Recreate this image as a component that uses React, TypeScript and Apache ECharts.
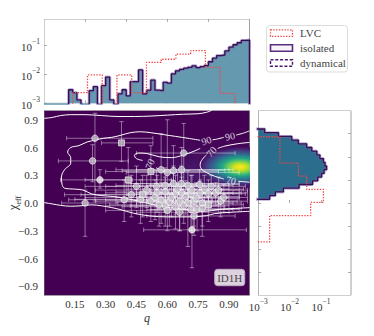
import React, { useEffect, useRef } from 'react';
import * as echarts from 'echarts';

const FONT = 'Liberation Serif, DejaVu Serif, serif';

// ---------- marginal density of q (top panel) ----------
const qIsoStart = 0;
const qIsoWidth = 0.02;
const qIsolated = [0, 0, 0, 0, 0, 0, 0.0029, 0.0023, 0.0013, 0, 0, 0.0027, 0.0037, 0, 0.004, 0.0079, 0.0013, 0, 0.0021, 0.0029,
  0.0018, 0.0055, 0.0055, 0.0138, 0.0021, 0.0028, 0.0062, 0.0028, 0.0027, 0.0052, 0.0049, 0.0102, 0.0129, 0.0145, 0.0158, 0.017,
  0.019, 0.0166, 0.0178, 0.0195, 0.0263, 0.0347, 0.0427, 0.0447, 0.0617, 0.083, 0.1, 0.117, 0.141, 0.145];
const qLvcStart = 0.14;
const qLvcWidth = 0.0717;
const qLVC = [0.0023, 0.0093, 0, 0.0093, 0.0023, 0.025, 0.032, 0.048, 0.063, 0.017, 0.0022, 0];

// ---------- marginal density of chi_eff (right panel) ----------
const chiIsoStart = 0.04;
const chiIsoWidth = 0.04;
const chiIsolated = [0.0023, 0.0035, 0.0063, 0.02, 0.054, 0.079, 0.105, 0.126, 0.151, 0.135, 0.12, 0.093, 0.074, 0.051,
  0.035, 0.019, 0.0117, 0.0044, 0.0016];
const chiLvcStart = -0.42;
const chiLvcWidth = 0.142;
const chiLVC = [0.0023, 0.0023, 0.047, 0.12, 0.035, 0.019, 0.0049, 0.0049];

// ---------- axis ranges and tick labels ----------
const qRange = [0, 1];
const chiRange = [-1, 1];
const topLogRange = [-3, -0.12];
const sideLogRange = [-3, -0.04];
const qTickLabels = [0.15, 0.3, 0.45, 0.6, 0.75, 0.9];
const chiTickLabels = [-0.9, -0.6, -0.3, 0, 0.3, 0.6, 0.9];
const qTopTicks = [0.2, 0.4, 0.6, 0.8];
const chiSideTicks = [-0.75, -0.5, -0.25, 0, 0.25, 0.5, 0.75];
const logTicks = [-3, -2, -1];

// ---------- density peak (heat map) ----------
const blobQ = [0.82, 0.955];
const blobChi = [0.34, 0.388];
const blobSpreadQ = [0.5, 0.22];
const blobSpreadChi = [0.45, 0.235];

// ---------- events (points with error bars) ----------
const ptQ = [0.248, 0.377, 0.236, 0.272, 0.2, 0.68, 0.41, 0.52, 0.57, 0.6, 0.63, 0.67, 0.45, 0.425, 0.39,
  0.547, 0.5, 0.59, 0.668, 0.7, 0.757, 0.814, 0.55, 0.59, 0.64, 0.67, 0.715, 0.76, 0.8, 0.835,
  0.52, 0.57, 0.61, 0.66, 0.7, 0.73, 0.77, 0.8, 0.86, 0.59, 0.64, 0.68, 0.715, 0.745, 0.77, 0.73, 0.72,
  0.62, 0.69, 0.74, 0.54, 0.48, 0.65, 0.72, 0.78, 0.875, 0.6, 0.56, 0.47, 0.66, 0.85, 0.63];
const ptChi = [0.7, 0.65, 0.455, 0.25, 0.0, 0.54, 0.25, 0.34, 0.36, 0.33, 0.35, 0.36, 0.18, 0.09, 0.035,
  0.18, 0.14, 0.19, 0.21, 0.19, 0.2, 0.18, 0.11, 0.12, 0.1, 0.11, 0.1, 0.11, 0.1, 0.11,
  0.02, 0.03, 0.01, 0.02, 0.0, 0.02, 0.0, -0.02, 0.02, -0.03, -0.04, -0.03, -0.07, -0.07, -0.06, -0.14, -0.29,
  0.06, 0.07, 0.05, 0.06, 0.09, 0.15, 0.14, 0.15, 0.06, -0.08, -0.02, 0.04, -0.1, 0.14, 0.21];
const ptQLo = [0.11, 0.28, 0.07, 0.08, 0.086, 0.45, 0.2, 0.3, 0.35, 0.4, 0.38, 0.45, 0.2, 0.18, 0.12,
  0.3, 0.25, 0.35, 0.42, 0.5, 0.55, 0.62, 0.3, 0.35, 0.4, 0.45, 0.5, 0.52, 0.6, 0.65,
  0.25, 0.3, 0.35, 0.4, 0.45, 0.5, 0.55, 0.6, 0.7, 0.3, 0.38, 0.42, 0.5, 0.52, 0.55, 0.5, 0.485,
  0.35, 0.45, 0.5, 0.2, 0.1, 0.4, 0.5, 0.55, 0.7, 0.3, 0.32, 0.15, 0.45, 0.7, 0.4];
const ptQHi = [0.53, 0.53, 0.41, 0.43, 0.36, 0.93, 0.62, 0.85, 0.9, 0.95, 0.88, 0.92, 0.75, 0.7, 0.6,
  0.85, 0.8, 0.9, 0.95, 0.92, 0.95, 0.98, 0.8, 0.85, 0.9, 0.92, 0.95, 0.96, 0.98, 0.99,
  0.78, 0.82, 0.85, 0.9, 0.92, 0.94, 0.96, 0.97, 0.99, 0.85, 0.88, 0.9, 0.92, 0.95, 0.96, 0.93, 0.985,
  0.9, 0.95, 0.95, 0.8, 0.75, 0.9, 0.95, 0.97, 0.99, 0.85, 0.8, 0.7, 0.9, 0.99, 0.9];
const ptChiLo = [0.02, 0.45, 0.23, 0.16, -0.36, 0.09, 0.08, 0.12, 0.05, 0.1, 0.0, 0.15, -0.05, -0.15, -0.2,
  0.0, -0.05, -0.02, 0.05, 0.0, 0.05, 0.0, -0.1, -0.1, -0.12, -0.05, -0.1, -0.08, -0.05, -0.02,
  -0.2, -0.22, -0.25, -0.3, -0.47, -0.25, -0.36, -0.2, -0.15, -0.25, -0.28, -0.22, -0.3, -0.3, -0.25, -0.35, -0.7,
  -0.15, -0.12, -0.15, -0.18, -0.15, -0.05, -0.05, -0.02, -0.1, -0.3, -0.25, -0.22, -0.3, -0.02, 0.0];
const ptChiHi = [0.97, 0.88, 0.63, 0.36, 0.14, 0.86, 0.6, 0.62, 0.75, 0.9, 0.62, 0.6, 0.4, 0.3, 0.25,
  0.35, 0.3, 0.38, 0.4, 0.35, 0.36, 0.3, 0.3, 0.28, 0.3, 0.28, 0.3, 0.25, 0.25, 0.22,
  0.2, 0.22, 0.2, 0.2, 0.18, 0.2, 0.15, 0.12, 0.15, 0.15, 0.12, 0.12, 0.1, 0.08, 0.1, 0.05, -0.05,
  0.25, 0.24, 0.22, 0.25, 0.3, 0.33, 0.3, 0.3, 0.2, 0.1, 0.12, 0.25, 0.05, 0.28, 0.4];
const ptSquare = [0, 1, 0, 0, 0, 0, 1, 1, 0, 0, 0, 0, 0, 0, 0,
  0, 0, 0, 0, 0, 0, 0, 0, 0, 0, 0, 0, 0, 0, 0,
  0, 0, 0, 0, 0, 0, 0, 1, 0, 0, 0, 0, 0, 0, 0, 0, 0,
  0, 0, 0, 0, 1, 0, 0, 0, 0, 0, 0, 0, 0, 0, 0];
const ptBright = [0, 0, 0, 1, 0, 0, 0, 0, 0, 0, 0, 0, 0, 0, 0,
  0, 0, 0, 0, 0, 0, 0, 0, 0, 0, 0, 0, 0, 0, 0,
  0, 0, 0, 0, 0, 0, 0, 0, 0, 0, 0, 0, 0, 0, 0, 0, 1,
  0, 0, 0, 0, 0, 0, 0, 0, 0, 0, 0, 0, 0, 0, 0];

// ---------- credible-region contours ----------
const contourOuterTop = [[0, 0.915], [0.04, 0.925], [0.08, 0.945], [0.13, 0.955], [0.2, 0.955], [0.28, 0.945], [0.36, 0.935],
  [0.44, 0.935], [0.52, 0.94], [0.6, 0.95], [0.68, 0.96], [0.75, 0.965], [0.79, 0.98], [0.815, 1.0]];
const contourOuterBottom = [[0, 0.005], [0.04, -0.01], [0.08, -0.025], [0.13, -0.035], [0.18, -0.03], [0.23, -0.02],
  [0.28, -0.03], [0.33, -0.05], [0.37, -0.07], [0.435, -0.11], [0.515, -0.14], [0.6, -0.15], [0.7, -0.15], [0.79, -0.137],
  [0.83, -0.115], [0.91, -0.1], [1.0, -0.09]];
const contour90a = [[1.0, 0.78], [0.97, 0.755], [0.935, 0.735]];
const contour90b = [[0.875, 0.71], [0.84, 0.69], [0.82, 0.683]];
const contour90c = [[0.76, 0.678], [0.7, 0.7], [0.64, 0.72], [0.58, 0.74], [0.52, 0.76], [0.47, 0.77], [0.42, 0.76],
  [0.37, 0.73], [0.33, 0.71], [0.29, 0.7], [0.25, 0.68], [0.21, 0.66], [0.17, 0.62], [0.13, 0.6], [0.115, 0.55],
  [0.13, 0.49], [0.13, 0.43], [0.1, 0.36], [0.085, 0.28], [0.088, 0.2], [0.1, 0.16], [0.15, 0.15], [0.19, 0.14],
  [0.23, 0.1], [0.28, 0.08], [0.34, 0.07], [0.4, 0.05], [0.46, 0.02], [0.52, -0.01], [0.58, -0.04], [0.65, -0.06],
  [0.72, -0.08], [0.78, -0.09], [0.85, -0.07], [0.92, -0.06], [1.0, -0.05]];
const contour70a = [[1.0, 0.655], [0.94, 0.64], [0.88, 0.615], [0.845, 0.59]];
const contour70b = [[0.79, 0.52], [0.77, 0.47], [0.76, 0.42], [0.765, 0.37], [0.79, 0.33], [0.83, 0.29], [0.875, 0.26]];
const contour70c = [[0.945, 0.235], [1.0, 0.225]];
const contour70d = [[0.76, 0.59], [0.73, 0.56], [0.68, 0.52], [0.62, 0.49], [0.56, 0.5], [0.5, 0.535], [0.46, 0.54],
  [0.44, 0.515], [0.45, 0.48], [0.48, 0.46]];
const contour70e = [[0.545, 0.38], [0.58, 0.35], [0.63, 0.32]];
const contours = [contourOuterTop, contourOuterBottom, contour90a, contour90b, contour90c, contour70a, contour70b,
  contour70c, contour70d, contour70e];
const clabelQ = [0.905, 0.79, 0.815, 0.91, 0.515];
const clabelChi = [0.722, 0.675, 0.555, 0.245, 0.42];
const clabelText = ['90', '90', '70', '70', '70'];
const clabelAngle = [12, 18, 48, -12, 65];

// ---------- helpers ----------
const LOG_FLOOR = -4;
const lg = (v: number) => (v > 0 ? Math.log10(v) : LOG_FLOOR);
function stepPoints(start: number, width: number, vals: number[], swap: boolean) {
  const pts: number[][] = [[start, LOG_FLOOR]];
  vals.forEach((v, i) => {
    const a = start + i * width;
    pts.push([a, lg(v)], [a + width, lg(v)]);
  });
  pts.push([start + vals.length * width, LOG_FLOOR]);
  return swap ? pts.map((p) => [p[1], p[0]]) : pts;
}

const TXT = '#333';
const powFmt = (v: number) => `{b|10}{s|−${Math.round(-v)}}`;
const powRich = {
  b: { fontFamily: FONT, fontSize: 11, color: TXT, lineHeight: 15, verticalAlign: 'bottom' },
  s: { fontFamily: FONT, fontSize: 7.5, color: TXT, lineHeight: 9, verticalAlign: 'top' },
};
const tickStyle = { color: '#999', width: 0.8 };
const gridBase = { show: false, outerBoundsMode: 'none', containLabel: false };

// panel background + frame drawn through the axes' own scales (corners = axis extents)
const panel = (xi: number, yi: number, xr: number[], yr: number[], fill: string, stroke: string) => ({
  type: 'custom', xAxisIndex: xi, yAxisIndex: yi, z: 0, silent: true, clip: true, data: [[xr[0], yr[0]]],
  renderItem: (_p: any, api: any) => {
    const a = api.coord([xr[0], yr[1]]);
    const b = api.coord([xr[1], yr[0]]);
    return { type: 'rect', shape: { x: a[0], y: a[1], width: b[0] - a[0], height: b[1] - a[1] }, style: { fill, stroke, lineWidth: 1 } };
  },
});

function buildOption() {
  const isoFillTop = '#6499b0';
  const isoFillSide = '#2b6d8c';
  const isoLine = '#33104f';
  const isoHalo = 'rgba(125,90,175,0.5)';
  const lvcColor = '#f04848';

  const topIso = stepPoints(qIsoStart, qIsoWidth, qIsolated, false);
  const topLvc = stepPoints(qLvcStart, qLvcWidth, qLVC, false);
  const sideIso = stepPoints(chiIsoStart, chiIsoWidth, chiIsolated, true);
  const sideLvc = stepPoints(chiLvcStart, chiLvcWidth, chiLVC, true);

  const blobStops = [
    [
      { offset: 0, color: 'rgba(72,40,120,0.85)' },
      { offset: 1, color: 'rgba(68,1,84,0)' },
    ],
    [
      { offset: 0, color: '#fde725' },
      { offset: 0.12, color: '#d8e219' },
      { offset: 0.25, color: '#7ad151' },
      { offset: 0.4, color: '#22a884' },
      { offset: 0.55, color: '#2a788e' },
      { offset: 0.72, color: '#414487' },
      { offset: 0.88, color: '#471365' },
      { offset: 1, color: 'rgba(68,1,84,0)' },
    ],
  ];

  const points = ptQ.map((q, i) => [q, ptChi[i], ptQLo[i], ptQHi[i], ptChiLo[i], ptChiHi[i]]);
  const markerData = (sq: number) =>
    ptQ
      .map((q, i) => ({ i, q }))
      .filter((o) => ptSquare[o.i] === sq)
      .map((o) => ({
        value: [o.q, ptChi[o.i]],
        itemStyle: { color: ptBright[o.i] ? '#f2f2f2' : 'rgba(200,200,205,0.95)' },
      }));

  const series: any[] = [
    panel(0, 0, qRange, topLogRange, '#ffffff', '#a0a0a0'),
    panel(2, 1, qRange, chiRange, '#440154', '#777777'),
    panel(3, 2, sideLogRange, chiRange, '#ffffff', '#a0a0a0'),
    // top panel
    {
      type: 'line', xAxisIndex: 0, yAxisIndex: 0, data: topIso, symbol: 'none', clip: true, z: 2,
      lineStyle: { width: 3, color: isoHalo }, areaStyle: { color: isoFillTop, opacity: 1, origin: 'start' },
    },
    { type: 'line', xAxisIndex: 0, yAxisIndex: 0, data: topIso, symbol: 'none', clip: true, z: 3, lineStyle: { width: 1.3, color: isoLine } },
    { type: 'line', xAxisIndex: 0, yAxisIndex: 0, data: topLvc, symbol: 'none', clip: true, z: 4, lineStyle: { width: 1.3, color: lvcColor, type: [1.4, 1.4] } },
    // right panel
    {
      type: 'custom', xAxisIndex: 3, yAxisIndex: 2, clip: true, z: 1, data: [[0, 0]],
      renderItem: (_p: any, api: any) => ({
        type: 'polygon',
        shape: { points: sideIso.map((p) => api.coord([Math.max(p[0], sideLogRange[0]), p[1]])) },
        style: { fill: isoFillSide },
      }),
    },
    { type: 'line', xAxisIndex: 3, yAxisIndex: 2, data: sideIso, symbol: 'none', clip: true, z: 2, lineStyle: { width: 3, color: isoHalo } },
    { type: 'line', xAxisIndex: 3, yAxisIndex: 2, data: sideIso, symbol: 'none', clip: true, z: 3, lineStyle: { width: 1.3, color: isoLine } },
    { type: 'line', xAxisIndex: 3, yAxisIndex: 2, data: sideLvc, symbol: 'none', clip: true, z: 4, lineStyle: { width: 1.3, color: lvcColor, type: [1.4, 1.4] } },
    // main panel: density
    {
      type: 'custom', xAxisIndex: 2, yAxisIndex: 1, clip: true, z: 1,
      data: blobQ.map((q, i) => [q, blobChi[i], blobSpreadQ[i], blobSpreadChi[i]]),
      renderItem: (p: any, api: any) => {
        const c = api.coord([api.value(0), api.value(1)]);
        const s = api.size([api.value(2), api.value(3)]);
        return {
          type: 'ellipse',
          shape: { cx: c[0], cy: c[1], rx: s[0], ry: s[1] },
          style: { fill: new echarts.graphic.RadialGradient(0.5, 0.5, 0.5, blobStops[p.dataIndex]) },
        };
      },
    },
    // contours
    ...contours.map((c) => ({
      type: 'line', xAxisIndex: 2, yAxisIndex: 1, data: c, symbol: 'none', smooth: 0.35, clip: true, z: 2,
      lineStyle: { color: '#ffffff', width: 1 }, silent: true,
    })),
    {
      type: 'scatter', xAxisIndex: 2, yAxisIndex: 1, symbolSize: 0, z: 6, silent: true,
      data: clabelQ.map((q, i) => ({
        value: [q, clabelChi[i]], name: clabelText[i],
        label: { rotate: clabelAngle[i] },
      })),
      label: {
        show: true, position: 'inside', formatter: (p: any) => p.name,
        fontFamily: FONT, fontSize: 10, color: '#ffffff',
      },
    },
    // error bars
    {
      type: 'custom', xAxisIndex: 2, yAxisIndex: 1, clip: true, z: 3, data: points,
      encode: { x: 0, y: 1 },
      renderItem: (_p: any, api: any) => {
        const q = api.value(0);
        const c = api.value(1);
        const a = api.coord([api.value(2), c]);
        const b = api.coord([api.value(3), c]);
        const d = api.coord([q, api.value(4)]);
        const u = api.coord([q, api.value(5)]);
        const cap = 2.2;
        const st = { stroke: 'rgba(255,255,255,0.42)', lineWidth: 1 };
        const L = (x1: number, y1: number, x2: number, y2: number) => ({ type: 'line', shape: { x1, y1, x2, y2 }, style: st });
        return {
          type: 'group',
          children: [
            L(a[0], a[1], b[0], b[1]), L(a[0], a[1] - cap, a[0], a[1] + cap), L(b[0], b[1] - cap, b[0], b[1] + cap),
            L(d[0], d[1], u[0], u[1]), L(d[0] - cap, d[1], d[0] + cap, d[1]), L(u[0] - cap, u[1], u[0] + cap, u[1]),
          ],
        };
      },
    },
    {
      type: 'scatter', xAxisIndex: 2, yAxisIndex: 1, symbol: 'circle', symbolSize: 6.5, z: 5, data: markerData(0),
      itemStyle: { borderColor: '#ffffff', borderWidth: 0.8 },
    },
    {
      type: 'scatter', xAxisIndex: 2, yAxisIndex: 1, symbol: 'rect', symbolSize: 6, z: 5, data: markerData(1),
      itemStyle: { borderColor: '#ffffff', borderWidth: 0.8 },
    },
  ];

  const noLine = { show: false };
  const noSplit = { show: false };

  return {
    animation: false,
    backgroundColor: '#ffffff',
    textStyle: { fontFamily: FONT },
    grid: [
      { left: 44, top: 19, width: 205.5, height: 84.3, ...gridBase },
      { left: 44, top: 110.5, width: 205.5, height: 185, ...gridBase },
      { left: 258.3, top: 110.5, width: 92.7, height: 185, ...gridBase },
    ],
    xAxis: [
      {
        gridIndex: 0, type: 'value', min: qRange[0], max: qRange[1], axisLine: noLine, splitLine: noSplit, axisLabel: { show: false },
        axisTick: { inside: true, length: 3, customValues: qTopTicks, lineStyle: tickStyle },
      },
      {
        gridIndex: 0, type: 'value', position: 'top', min: qRange[0], max: qRange[1], axisLine: noLine, splitLine: noSplit, axisLabel: { show: false },
        axisTick: { inside: true, length: 3, customValues: qTopTicks, lineStyle: tickStyle },
      },
      {
        gridIndex: 1, type: 'value', min: qRange[0], max: qRange[1], axisLine: noLine, splitLine: noSplit, axisTick: { show: false },
        axisLabel: {
          customValues: qTickLabels, formatter: (v: number) => v.toFixed(2), margin: 3,
          fontFamily: FONT, fontSize: 11, color: TXT,
        },
      },
      {
        gridIndex: 2, type: 'value', min: sideLogRange[0], max: sideLogRange[1], axisLine: noLine, splitLine: noSplit,
        axisTick: { inside: true, length: 3, customValues: logTicks, lineStyle: tickStyle },
        axisLabel: { customValues: logTicks, formatter: powFmt, rich: powRich, margin: 2, fontFamily: FONT },
      },
    ],
    yAxis: [
      {
        gridIndex: 0, type: 'value', min: topLogRange[0], max: topLogRange[1], axisLine: noLine, splitLine: noSplit,
        axisTick: { inside: true, length: 3, customValues: logTicks, lineStyle: tickStyle },
        axisLabel: { customValues: logTicks, formatter: powFmt, rich: powRich, margin: 4, fontFamily: FONT },
      },
      {
        gridIndex: 1, type: 'value', min: chiRange[0], max: chiRange[1], axisLine: noLine, splitLine: noSplit, axisTick: { show: false },
        axisLabel: {
          customValues: chiTickLabels,
          formatter: (v: number) => (v < -1e-9 ? '−' : '') + Math.abs(v).toFixed(1),
          margin: 6, fontFamily: FONT, fontSize: 11, color: TXT,
        },
      },
      {
        gridIndex: 2, type: 'value', min: chiRange[0], max: chiRange[1], axisLine: noLine, splitLine: noSplit, axisLabel: { show: false },
        axisTick: { inside: true, length: 3, customValues: chiSideTicks, lineStyle: tickStyle },
      },
      {
        gridIndex: 2, type: 'value', position: 'right', min: chiRange[0], max: chiRange[1], axisLine: noLine, splitLine: noSplit, axisLabel: { show: false },
        axisTick: { inside: true, length: 3, customValues: chiSideTicks, lineStyle: tickStyle },
      },
    ],
    series,
    graphic: [
      // axis titles
      {
        type: 'text', z: 50, x: 147, y: 318,
        style: { text: 'q', fontFamily: FONT, fontSize: 12, fontStyle: 'italic', fill: TXT, align: 'center', verticalAlign: 'middle' },
      },
      {
        type: 'text', z: 50, x: 11, y: 203, rotation: Math.PI / 2,
        style: {
          text: '{a|χ}{b|eff}', align: 'center', verticalAlign: 'middle',
          rich: {
            a: { fontFamily: FONT, fontSize: 13, fill: TXT, lineHeight: 16, verticalAlign: 'bottom' },
            b: { fontFamily: FONT, fontSize: 8, fill: TXT, lineHeight: 16, verticalAlign: 'bottom', padding: [0, 0, -3, 0] },
          },
        },
      },
      // legend
      { type: 'rect', z: 100, shape: { x: 266.5, y: 25.5, width: 81, height: 46.5, r: 3 }, style: { fill: '#ffffff', stroke: '#dcdcdc', lineWidth: 1 } },
      { type: 'rect', z: 101, shape: { x: 270.5, y: 29.8, width: 22, height: 6.5 }, style: { fill: 'none', stroke: lvcColor, lineWidth: 1.3, lineDash: [1.4, 1.4] } },
      { type: 'text', z: 101, x: 300, y: 33.3, style: { text: 'LVC', fontFamily: FONT, fontSize: 11, fill: '#444', verticalAlign: 'middle' } },
      { type: 'rect', z: 101, shape: { x: 270.5, y: 44.8, width: 22, height: 6.5 }, style: { fill: '#f6f3f9', stroke: '#5a2d82', lineWidth: 1.6 } },
      { type: 'text', z: 101, x: 300, y: 48.3, style: { text: 'isolated', fontFamily: FONT, fontSize: 11, fill: '#444', verticalAlign: 'middle' } },
      { type: 'rect', z: 101, shape: { x: 270.5, y: 59.8, width: 22, height: 6.5 }, style: { fill: 'none', stroke: '#4a1670', lineWidth: 1.4, lineDash: [3, 1.8] } },
      { type: 'text', z: 101, x: 300, y: 63.3, style: { text: 'dynamical', fontFamily: FONT, fontSize: 11, fill: '#444', verticalAlign: 'middle' } },
      // panel tag
      { type: 'rect', z: 100, shape: { x: 214.7, y: 269.3, width: 30, height: 16.4, r: 3 }, style: { fill: 'rgba(255,255,255,0.82)', stroke: '#b8b0bc', lineWidth: 1 } },
      { type: 'text', z: 101, x: 229.7, y: 277.6, style: { text: 'ID1H', fontFamily: FONT, fontSize: 11, fill: '#444', align: 'center', verticalAlign: 'middle' } },
    ],
  };
}

export default function App() {
  const ref = useRef<HTMLDivElement>(null);
  useEffect(() => {
    const chart = echarts.init(ref.current as HTMLDivElement, undefined, { renderer: 'svg' });
    chart.setOption(buildOption() as any);
    return () => chart.dispose();
  }, []);
  return <div ref={ref} style={{ position: 'fixed', left: 0, top: 0, width: 374, height: 336 }} />;
}
